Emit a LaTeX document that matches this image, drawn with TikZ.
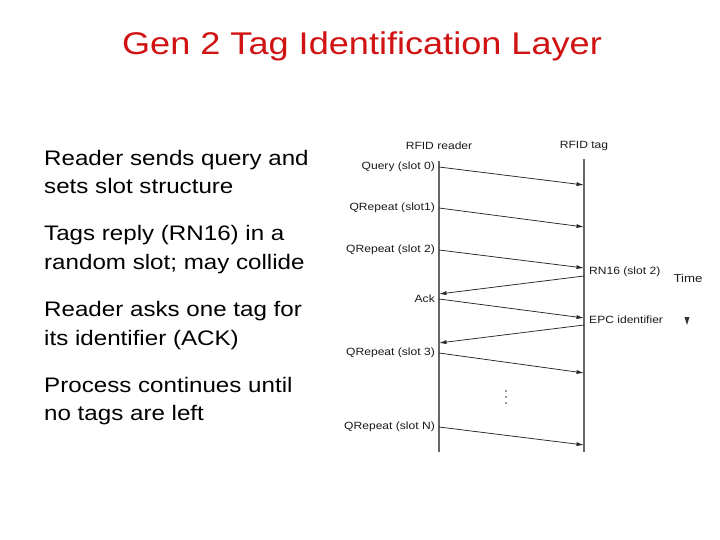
\documentclass[tikz,border=0pt]{standalone}
\usepackage{fontspec}
\setmainfont[FakeStretch=1.15]{Liberation Sans}
\usetikzlibrary{arrows.meta}
\definecolor{titlered}{RGB}{208,18,18}

\begin{document}
\begin{tikzpicture}[
  x=1pt, y=-1pt,
  life/.style={draw=black!60, line width=1.1pt},
  msg/.style={->, draw=black!85, line width=0.75pt},
  lbl/.style={font=\fontsize{10.5}{12}\selectfont, inner sep=1pt, text=black!90},
  para/.style={font=\fontsize{21}{28.5}\selectfont, align=left, anchor=west, inner sep=0pt},
  >={Latex[length=7.5pt,width=4pt]}
]
  \useasboundingbox (0,0) rectangle (720,540);
  % Title
  \node[text=titlered, font=\fontsize{31.4}{36}\selectfont] (title) at (362,46) {Gen 2 Tag Identification Layer};

  % Left column
  \node[para] (p1) at (44,172) {Reader sends query and\\sets slot structure};
  \node[para] (p2) at (44,249.5) {Tags reply (RN16) in a\\random slot; may collide};
  \node[para] (p3) at (44,325.5) {Reader asks one tag for\\its identifier (ACK)};
  \node[para] (p4) at (44,401) {Process continues until\\no tags are left};

  % Lifelines
  \coordinate (rtop) at (439,161);
  \coordinate (rbot) at (439,452);
  \coordinate (ttop) at (584,159);
  \coordinate (tbot) at (584,452);
  \draw[life] (rtop) -- (rbot);
  \draw[life] (ttop) -- (tbot);
  \node[lbl] (reader) at (439,146) {RFID reader};
  \node[lbl] (tag) at (584,146) {RFID tag};

  % Reader to tag
  \foreach \n/\ya/\yb/\txt in {q0/167/185/Query (slot 0), q1/208/227/QRepeat (slot1),
      q2/250/268/QRepeat (slot 2), ack/299/318/Ack, q3/353/373/QRepeat (slot 3),
      qn/427/445/QRepeat (slot N)} {
    \coordinate (\n r) at (439,\ya);
    \coordinate (\n t) at (584,\yb);
    \node[lbl, anchor=east] (\n) at (436,\ya) {\txt};
    \draw[msg] (\n r) -- (\n t);
  }

  % Tag to reader
  \coordinate (rnt) at (584,276);
  \coordinate (rnr) at (439,294);
  \node[lbl, anchor=west] (rn16) at (588,272) {RN16 (slot 2)};
  \draw[msg] (rnt) -- (rnr);
  \coordinate (epct) at (584,325);
  \coordinate (epcr) at (439,343);
  \node[lbl, anchor=west] (epc) at (588,320) {EPC identifier};
  \draw[msg] (epct) -- (epcr);

  % Time
  \node[lbl, font=\fontsize{11.5}{13}\selectfont] (time) at (688,278) {Time};
  \fill[black!80] (684.5,317) -- (689.5,317) -- (687,325) -- cycle;
  % dots
  \foreach \y in {391,397,403}
    \fill[black!80] (506,\y) circle (0.9);
\end{tikzpicture}
\end{document}
